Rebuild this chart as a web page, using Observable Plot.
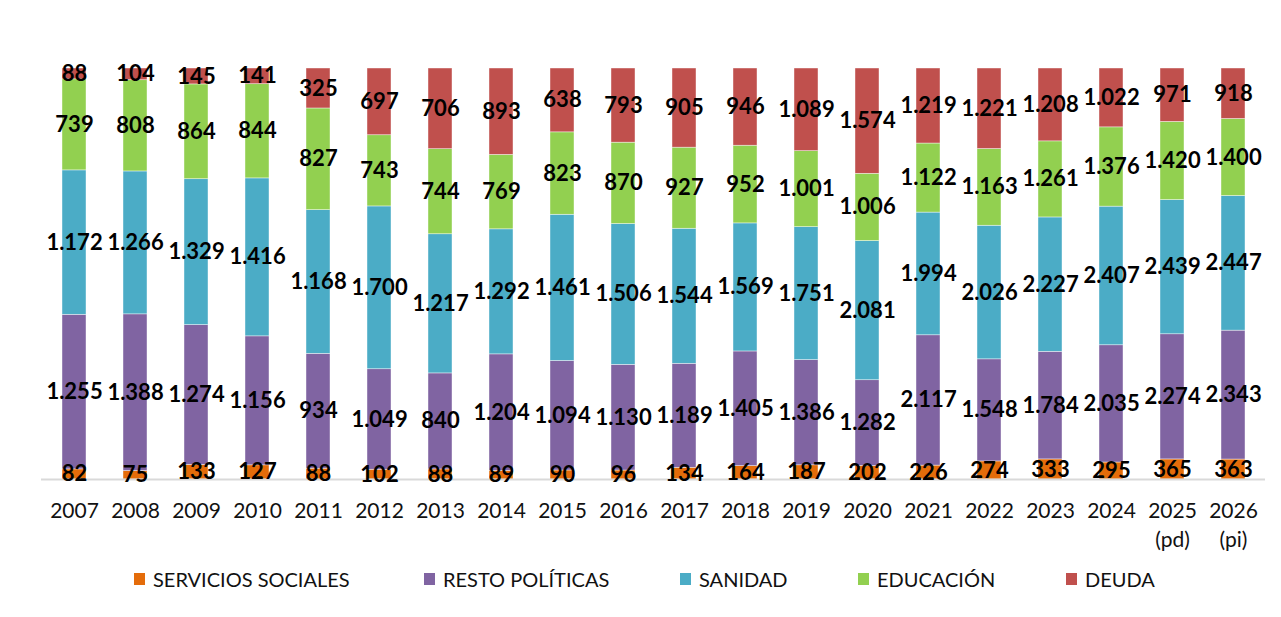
<!DOCTYPE html>
<html>
<head>
<meta charset="utf-8">
<script src="https://cdn.jsdelivr.net/npm/d3@7"></script>
<script src="https://cdn.jsdelivr.net/npm/@observablehq/plot@0.6"></script>
<style>
  html, body { margin: 0; padding: 0; background: #fff; }
  #wrap { position: relative; width: 1281px; height: 617px; overflow: hidden; font-family: Lato, "Open Sans", sans-serif; }
  #legend { position: absolute; left: 0; top: 567px; width: 1281px; height: 24px; }
  .item { position: absolute; top: 0; display: flex; align-items: center; height: 24px; font-size: 20px; color: #111; white-space: nowrap; }
  .sw { width: 11px; height: 12px; margin-right: 8px; }
</style>
</head>
<body>
<div id="wrap">
  <div id="chart"></div>
  <div id="legend"></div>
</div>
<script>
const categories = ["2007","2008","2009","2010","2011","2012","2013","2014","2015","2016","2017","2018","2019","2020","2021","2022","2023","2024","2025","2026"];
const tickLabels = ["2007","2008","2009","2010","2011","2012","2013","2014","2015","2016","2017","2018","2019","2020","2021","2022","2023","2024","2025\n(pd)","2026\n(pi)"];
const seriesNames = ["SERVICIOS SOCIALES","RESTO POLÍTICAS","SANIDAD","EDUCACIÓN","DEUDA"];
const colors = ["#E46C0A","#8064A2","#4BACC6","#92D050","#C0504D"];

const servicios = [82,75,133,127,88,102,88,89,90,96,134,164,187,202,226,274,333,295,365,363];
const resto     = [1255,1388,1274,1156,934,1049,840,1204,1094,1130,1189,1405,1386,1282,2117,1548,1784,2035,2274,2343];
const sanidad   = [1172,1266,1329,1416,1168,1700,1217,1292,1461,1506,1544,1569,1751,2081,1994,2026,2227,2407,2439,2447];
const educacion = [739,808,864,844,827,743,744,769,823,870,927,952,1001,1006,1122,1163,1261,1376,1420,1400];
const deuda     = [88,104,145,141,325,697,706,893,638,793,905,946,1089,1574,1219,1221,1208,1022,971,918];

const legendX = [134, 424, 680, 858, 1066];

const seriesValues = [servicios, resto, sanidad, educacion, deuda];
const data = [];
seriesNames.forEach((s, si) => {
  categories.forEach((c, ci) => data.push({year: c, serie: s, value: seriesValues[si][ci]}));
});

const fmt = d3.formatLocale({decimal: ",", thousands: ".", grouping: [3], currency: ["", "€"]}).format(",d");

const chart = Plot.plot({
  width: 1281,
  height: 555,
  marginTop: 68,
  marginBottom: 76,
  marginLeft: 41,
  marginRight: 16,
  style: {fontFamily: "Lato, 'Open Sans', sans-serif", background: "#fff", color: "#111"},
  x: {domain: categories, paddingInner: 0.61, paddingOuter: 0.3, label: null, axis: null},
  y: {axis: null, domain: [0, 1]},
  color: {domain: seriesNames, range: colors},
  marks: [
    Plot.barY(data, Plot.stackY({offset: "normalize", order: seriesNames, x: "year", y: "value", fill: "serie", stroke: "#fff", strokeWidth: 0.6, strokeOpacity: 0.7})),
    Plot.ruleY([0], {stroke: "#d9d9d9", strokeWidth: 2}),
    Plot.axisX({tickSize: 0, tickPadding: 18, fontSize: 21, lineHeight: 1.38, fill: "#111", tickFormat: (d, i) => tickLabels[categories.indexOf(d)]}),
    Plot.text(data, Plot.stackY({offset: "normalize", order: seriesNames, x: "year", y: "value", z: "serie", text: d => fmt(d.value), fontSize: 22, fontWeight: "bold", fill: "#000"}))
  ]
});
document.getElementById("chart").appendChild(chart);

const legend = document.getElementById("legend");
seriesNames.forEach((s, i) => {
  const item = document.createElement("div");
  item.className = "item";
  item.style.left = legendX[i] + "px";
  const sw = document.createElement("span");
  sw.className = "sw";
  sw.style.background = colors[i];
  item.appendChild(sw);
  item.appendChild(document.createTextNode(s));
  legend.appendChild(item);
});
</script>
</body>
</html>
